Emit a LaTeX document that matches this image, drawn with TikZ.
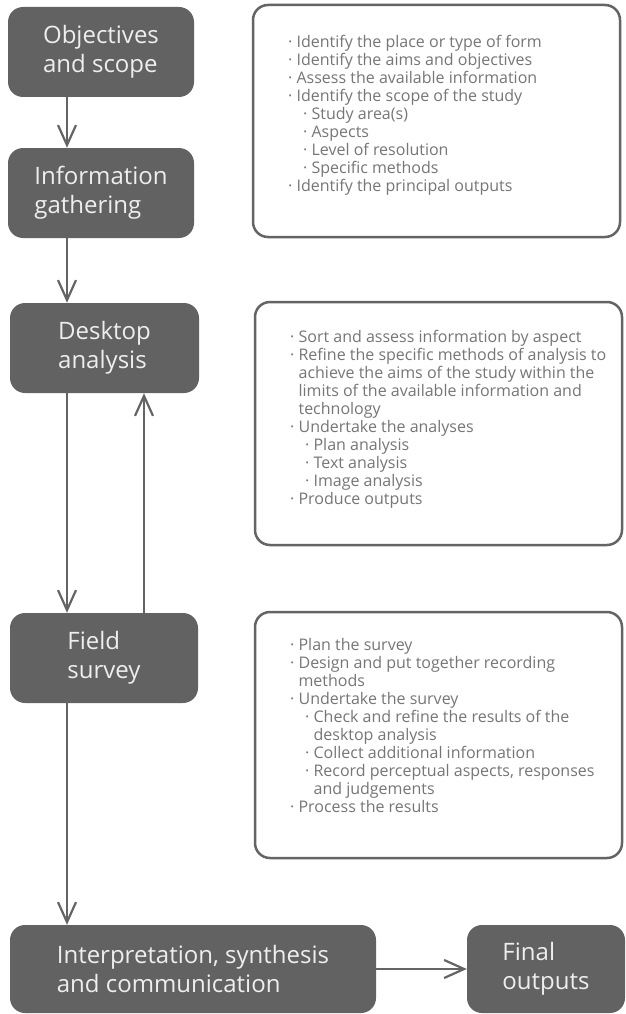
\documentclass[tikz,border=0pt]{standalone}
\usepackage{fontspec}
\setmainfont{Open Sans}
\usetikzlibrary{arrows.meta}
\definecolor{boxfill}{RGB}{98,98,98}
\definecolor{boxtext}{RGB}{238,238,238}
\definecolor{linegray}{RGB}{100,100,100}
\definecolor{notegray}{RGB}{118,118,118}
\newcommand{\topb}{·\ }
\newcommand{\subb}{\hspace*{15pt}·\ }
\newcommand{\cont}{\phantom{·\ }}
\newcommand{\subcont}{\hspace*{15pt}\phantom{·\ }}
\begin{document}
\begin{tikzpicture}[x=1pt,y=-1pt,
  stage/.style={fill=boxfill, rounded corners=15pt, text=boxtext, align=left,
    font=\fontsize{24}{29}\selectfont, inner sep=0pt},
  notebox/.style={draw=linegray, line width=2.5pt, rounded corners=15pt, fill=white},
  notetext/.style={anchor=north west, inner sep=0pt, align=left, text=notegray,
    font=\fontsize{16}{18}\selectfont},
  flow/.style={draw=linegray, line width=2.2pt,
    -{Straight Barb[length=20pt,width=18pt]}}]
\useasboundingbox (0,0) rectangle (626,1014);

% stage boxes
\node[stage, minimum width=186pt, minimum height=90pt] (obj) at (101,52) {Objectives\\and scope};
\node[stage, minimum width=186pt, minimum height=90pt] (info) at (101,193) {Information\\gathering};
\node[stage, minimum width=189pt, minimum height=90pt] (desk) at (104.5,348) {Desktop\\analysis};
\node[stage, minimum width=188pt, minimum height=90pt] (field) at (104,658) {Field\\survey};
\node[stage, minimum width=366pt, minimum height=88pt] (interp) at (193,969) {Interpretation, synthesis\\and communication};
\node[stage, minimum width=158pt, minimum height=88pt] (final) at (546,969) {Final\\outputs};

% note boxes
\node[notebox, minimum width=367pt, minimum height=232pt] (n1) at (436.5,121) {};
\node[notebox, minimum width=367pt, minimum height=243pt] (n2) at (438.5,423.5) {};
\node[notebox, minimum width=367pt, minimum height=246pt] (n3) at (438.5,735) {};

\node[notetext] (t1) at (288,35) {%
\topb Identify the place or type of form\\
\topb Identify the aims and objectives\\
\topb Assess the available information\\
\topb Identify the scope of the study\\
\subb Study area(s)\\
\subb Aspects\\
\subb Level of resolution\\
\subb Specific methods\\
\topb Identify the principal outputs};

\node[notetext] (t2) at (290,330) {%
\topb Sort and assess information by aspect\\
\topb Refine the specific methods of analysis to\\
\cont achieve the aims of the study within the\\
\cont limits of the available information and\\
\cont technology\\
\topb Undertake the analyses\\
\subb Plan analysis\\
\subb Text analysis\\
\subb Image analysis\\
\topb Produce outputs};

\node[notetext] (t3) at (290,638) {%
\topb Plan the survey\\
\topb Design and put together recording\\
\cont methods\\
\topb Undertake the survey\\
\subb Check and refine the results of the\\
\subcont desktop analysis\\
\subb Collect additional information\\
\subb Record perceptual aspects, responses\\
\subcont and judgements\\
\topb Process the results};

% connectors
\coordinate (xa) at (67,0);
\coordinate (xb) at (144,0);
\draw[flow] (obj.south -| xa) -- (info.north -| xa);
\draw[flow] (info.south -| xa) -- (desk.north -| xa);
\draw[flow] (desk.south -| xa) -- (field.north -| xa);
\draw[flow] (field.north -| xb) -- (desk.south -| xb);
\draw[flow] (field.south -| xa) -- (interp.north -| xa);
\draw[flow] (interp.east) -- (final.west);
\end{tikzpicture}
\end{document}
